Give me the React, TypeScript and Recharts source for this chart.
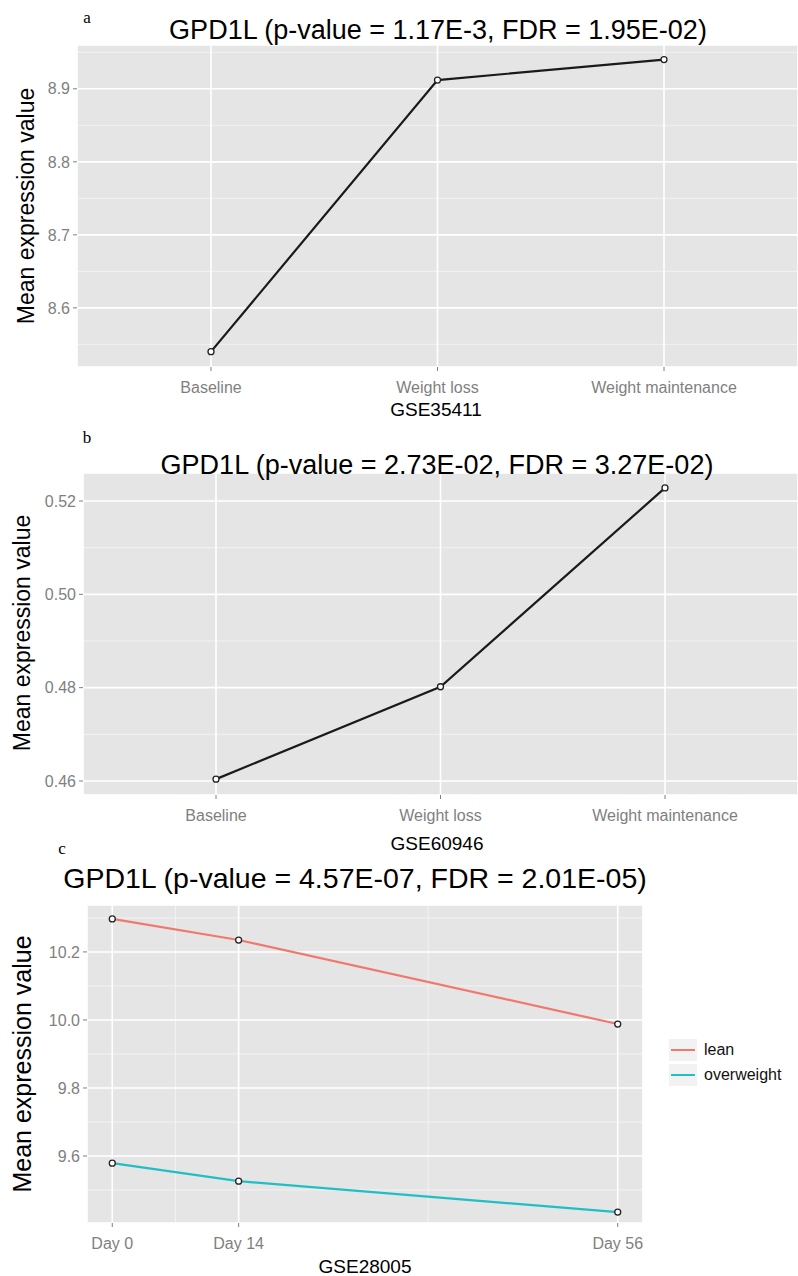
import { LineChart, Line, XAxis, YAxis, CartesianGrid } from "recharts";

// panels a and b: categorical time points
const CATEGORIES = ["Baseline", "Weight loss", "Weight maintenance"];
const VALUES_A = [8.54, 8.912, 8.94];
const VALUES_B = [0.4604, 0.4802, 0.5228];
const TICKS_A = [8.6, 8.7, 8.8, 8.9];
const MINOR_A = [8.55, 8.65, 8.75, 8.85, 8.95];
const TICKS_B = [0.46, 0.48, 0.5, 0.52];
const MINOR_B = [0.47, 0.49, 0.51];

// panel c: days
const DAYS = [0, 14, 56];
const LEAN = [10.297, 10.235, 9.988];
const OVERWEIGHT = [9.579, 9.526, 9.435];
const TICKS_C = [9.6, 9.8, 10.0, 10.2];
const MINOR_C_Y = [9.5, 9.7, 9.9, 10.1, 10.3];
const MINOR_C_X = [7, 35];
const GROUPS = ["lean", "overweight"];

const FONT = "'Liberation Sans', Arial, Helvetica, sans-serif";
const PANEL_BG = "#E5E5E5";
const MINOR_GRID = "#F2F2F2";
const TICK_COLOR = "#7F7F7F";
const LEAN_COLOR = "#F0786F";
const OVER_COLOR = "#1FBFC4";
const GROUP_COLORS = [LEAN_COLOR, OVER_COLOR];

const dataA = CATEGORIES.map((c, i) => ({ name: c, value: VALUES_A[i] }));
const dataB = CATEGORIES.map((c, i) => ({ name: c, value: VALUES_B[i] }));
const dataC = DAYS.map((d, i) => ({ day: d, lean: LEAN[i], overweight: OVERWEIGHT[i] }));

const dot = { r: 3, fill: "white", stroke: "#222", strokeWidth: 1.3 };
const tickStyle = { fontSize: 16, fill: TICK_COLOR, fontFamily: FONT };

function Text({ x, y, size, children, serif, rotate }: any) {
  return (
    <div
      style={{
        position: "absolute",
        left: x,
        top: y,
        transform: `translate(-50%, -50%)${rotate ? " rotate(-90deg)" : ""}`,
        fontSize: size,
        fontFamily: serif ? "'Liberation Serif', 'DejaVu Serif', serif" : FONT,
        whiteSpace: "nowrap",
        color: "#000",
        lineHeight: 1,
      }}
    >
      {children}
    </div>
  );
}

function CategoryPanel({ top, data, ticks, minor, domain, left, pad, fmt }: any) {
  return (
    <div style={{ position: "absolute", left: 0, top }}>
      <LineChart width={798} height={397} data={data} margin={{ top: 45, right: 0, bottom: 0, left: 0 }}>
        <CartesianGrid fill={PANEL_BG} stroke={MINOR_GRID} strokeWidth={1} vertical={false} horizontalValues={minor} />
        <CartesianGrid stroke="#FFFFFF" strokeWidth={1.6} fill="none" />
        <XAxis
          dataKey="name"
          type="category"
          padding={{ left: pad, right: pad }}
          height={30}
          axisLine={false}
          tickLine={{ stroke: TICK_COLOR }}
          tickSize={4}
          tickMargin={11}
          tick={tickStyle}
        />
        <YAxis
          type="number"
          domain={domain}
          ticks={ticks}
          allowDataOverflow
          width={left}
          axisLine={false}
          tickLine={{ stroke: TICK_COLOR }}
          tickSize={4}
          tickMargin={3}
          tick={tickStyle}
          tickFormatter={fmt}
        />
        <Line
          dataKey="value"
          type="linear"
          stroke="#1a1a1a"
          strokeWidth={2.2}
          dot={dot}
          activeDot={false}
          isAnimationActive={false}
        />
      </LineChart>
    </div>
  );
}

function LegendBox({ left, top }: any) {
  return (
    <div style={{ position: "absolute", left, top, fontFamily: FONT }}>
      {GROUPS.map((g, i) => (
        <div key={g} style={{ display: "flex", alignItems: "center", height: 25 }}>
          <svg width={30} height={24}>
            <rect x={1} y={1} width={28} height={22} fill="#F2F2F2" />
            <line x1={3} x2={27} y1={12} y2={12} stroke={GROUP_COLORS[i]} strokeWidth={2} />
          </svg>
          <span style={{ fontSize: 16, marginLeft: 6, color: "#111" }}>{g}</span>
        </div>
      ))}
    </div>
  );
}

export default function App() {
  return (
    <div style={{ position: "absolute", left: 0, top: 0, width: 798, height: 1276, background: "white" }}>
      {/* panel a */}
      <CategoryPanel
        top={0}
        data={dataA}
        ticks={TICKS_A}
        minor={MINOR_A}
        domain={[8.519, 8.96]}
        left={77}
        pad={134}
        fmt={(v: number) => v.toFixed(1)}
      />
      <Text x={87} y={17} size={17} serif>a</Text>
      <Text x={438} y={30} size={27}>GPD1L (p-value = 1.17E-3, FDR = 1.95E-02)</Text>
      <Text x={436} y={409} size={19}>GSE35411</Text>
      <Text x={26} y={206} size={23} rotate>Mean expression value</Text>

      {/* panel b */}
      <CategoryPanel
        top={428}
        data={dataB}
        ticks={TICKS_B}
        minor={MINOR_B}
        domain={[0.457, 0.526]}
        left={83}
        pad={133}
        fmt={(v: number) => v.toFixed(2)}
      />
      <Text x={87} y={437} size={17} serif>b</Text>
      <Text x={437} y={465} size={27}>GPD1L (p-value = 2.73E-02, FDR = 3.27E-02)</Text>
      <Text x={437} y={843} size={19}>GSE60946</Text>
      <Text x={22} y={633} size={23} rotate>Mean expression value</Text>

      {/* panel c */}
      <div style={{ position: "absolute", left: 0, top: 860 }}>
        <LineChart width={798} height={393} data={dataC} margin={{ top: 45, right: 155, bottom: 0, left: 0 }}>
          <CartesianGrid
            fill={PANEL_BG}
            stroke={MINOR_GRID}
            strokeWidth={1}
            horizontalValues={MINOR_C_Y}
            verticalValues={MINOR_C_X}
          />
          <CartesianGrid stroke="#FFFFFF" strokeWidth={1.6} fill="none" />
          <XAxis
            dataKey="day"
            type="number"
            domain={[-2.8, 58.8]}
            ticks={DAYS}
            allowDataOverflow
            height={30}
            axisLine={false}
            tickLine={{ stroke: TICK_COLOR }}
            tickSize={4}
            tickMargin={11}
            tick={tickStyle}
            tickFormatter={(d: number) => `Day ${d}`}
          />
          <YAxis
            type="number"
            domain={[9.403, 10.338]}
            ticks={TICKS_C}
            allowDataOverflow
            width={87}
            axisLine={false}
            tickLine={{ stroke: TICK_COLOR }}
            tickSize={4}
            tickMargin={3}
            tick={tickStyle}
            tickFormatter={(v: number) => v.toFixed(1)}
          />
          {GROUPS.map((g, i) => (
            <Line
              key={g}
              dataKey={g}
              type="linear"
              stroke={GROUP_COLORS[i]}
              strokeWidth={2.2}
              dot={dot}
              activeDot={false}
              isAnimationActive={false}
            />
          ))}
        </LineChart>
      </div>
      <LegendBox left={668} top={1037} />
      <Text x={62} y={848} size={17} serif>c</Text>
      <Text x={355} y={878} size={28.5}>GPD1L (p-value = 4.57E-07, FDR = 2.01E-05)</Text>
      <Text x={365} y={1266} size={19}>GSE28005</Text>
      <Text x={22} y={1064} size={25} rotate>Mean expression value</Text>
    </div>
  );
}
